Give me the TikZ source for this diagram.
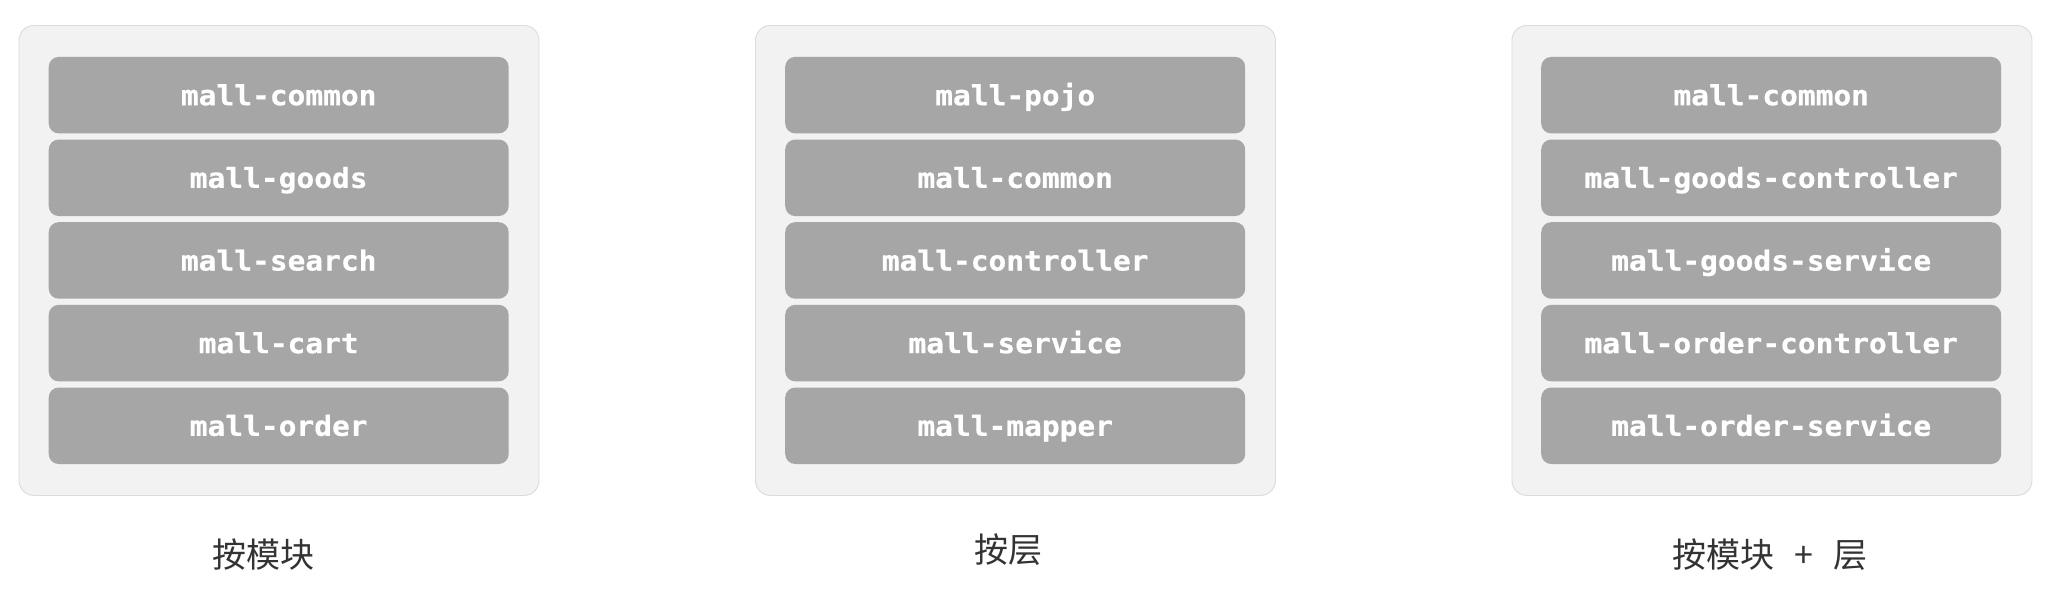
\documentclass[tikz,border=0pt]{standalone}
\usepackage{fontspec}
\newfontfamily\cjk{Noto Sans CJK SC}
\newfontfamily\codefont{DejaVu Sans Mono}[FakeStretch=1.07,BoldFeatures={FakeBold=0.6}]
\begin{document}
\begin{tikzpicture}[x=1pt,y=-1pt,
  panel/.style={draw=black!14, line width=0.9pt, fill=black!5, rounded corners=15pt,
    minimum width=520pt, minimum height=470pt, inner sep=0pt, anchor=north west},
  layer/.style={fill=black!35, rounded corners=10pt, minimum width=460pt, inner sep=0pt,
    text height=48.3pt, text depth=28.2pt, anchor=north west, text=white,
    font=\codefont\bfseries\fontsize{27.6}{30}\selectfont},
  caption/.style={anchor=base, inner sep=0pt, text=black!80,
    font=\cjk\fontsize{34}{40}\selectfont}]
\useasboundingbox (0,0) rectangle (2058,600);
% panels
\node[panel] (p1) at (18.5,25) {};
\node[panel] (p2) at (755,25) {};
\node[panel] (p3) at (1511.5,25) {};
% layers
\foreach \t [count=\k] in {mall-common,mall-goods,mall-search,mall-cart,mall-order}
  \node[layer] (a\k) at (48.5,{56.7+(\k-1)*82.65}) {\t};
\foreach \t [count=\k] in {mall-pojo,mall-common,mall-controller,mall-service,mall-mapper}
  \node[layer] (b\k) at (785,{56.7+(\k-1)*82.65}) {\t};
\foreach \t [count=\k] in {mall-common,mall-goods-controller,mall-goods-service,mall-order-controller,mall-order-service}
  \node[layer] (c\k) at (1541,{56.7+(\k-1)*82.65}) {\t};
% captions
\node[caption] (l1) at (263,567) {按模块};
\node[caption] (l2) at (1008,562) {按层};
\node[caption] (l3) at (1770,567) {按模块\hspace{20pt}+\hspace{20pt}层};
\end{tikzpicture}
\end{document}
